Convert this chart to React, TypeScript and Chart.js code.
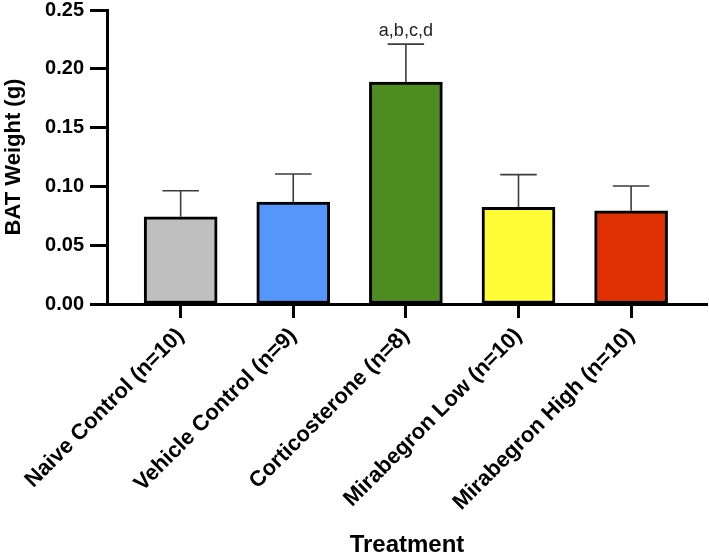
import React, { useEffect, useRef } from "react";
import { Chart, registerables } from "chart.js";

Chart.register(...registerables);

const categories = [
  "Naive Control (n=10)",
  "Vehicle Control (n=9)",
  "Corticosterone (n=8)",
  "Mirabegron Low (n=10)",
  "Mirabegron High (n=10)",
];
const means = [0.0742, 0.0867, 0.1888, 0.0822, 0.0793];
const errors = [0.0221, 0.0238, 0.0322, 0.0278, 0.021];
const annotations = ["", "", "a,b,c,d", "", ""];
const barColors = ["#BFBFBF", "#5596FB", "#4E8B21", "#FEFD38", "#DE3000"];
const yTicks = [0, 0.05, 0.1, 0.15, 0.2, 0.25];

const FONT = "'Liberation Sans', Arial, Helvetica, sans-serif";

const errorBarPlugin = {
  id: "errorBars",
  afterDatasetsDraw(chart: any) {
    const { ctx } = chart;
    const y = chart.scales.y;
    const meta = chart.getDatasetMeta(0);
    ctx.save();
    meta.data.forEach((bar: any, i: number) => {
      const cx = bar.x;
      const top = y.getPixelForValue(means[i]);
      const capY = y.getPixelForValue(means[i] + errors[i]);
      const half = bar.width / 4;
      ctx.strokeStyle = "#3c3c3c";
      ctx.lineWidth = 1.6;
      ctx.beginPath();
      ctx.moveTo(cx, top);
      ctx.lineTo(cx, capY);
      ctx.moveTo(cx - half, capY);
      ctx.lineTo(cx + half, capY);
      ctx.stroke();
      if (annotations[i]) {
        ctx.fillStyle = "#222";
        ctx.font = `18px ${FONT}`;
        ctx.textAlign = "center";
        ctx.textBaseline = "alphabetic";
        ctx.fillText(annotations[i], cx, capY - 8);
      }
    });
    ctx.restore();
  },
};

export default function App() {
  const ref = useRef<HTMLCanvasElement>(null);
  useEffect(() => {
    if (!ref.current) return;
    const chart = new Chart(ref.current, {
      type: "bar",
      data: {
        datasets: [
          {
            data: means.map((v, i) => ({ x: i, y: v })),
            backgroundColor: barColors,
            borderColor: "#000",
            borderWidth: 3,
            borderSkipped: false,
            barThickness: 73,
          },
        ],
      },
      plugins: [errorBarPlugin],
      options: {
        animation: false,
        responsive: false,
        devicePixelRatio: 1,
        layout: { padding: { top: 0, right: 2, left: 0, bottom: 0 } },
        plugins: { legend: { display: false }, tooltip: { enabled: false } },
        scales: {
          x: {
            type: "linear",
            offset: false,
            min: -0.654,
            max: 4.674,
            afterBuildTicks: (scale: any) => {
              scale.ticks = categories.map((_, i) => ({ value: i }));
            },
            afterFit: (scale: any) => {
              scale.height = 557 - 304;
            },
            ticks: {
              autoSkip: false,
              minRotation: 45,
              maxRotation: 45,
              padding: 5,
              color: "#000",
              font: { family: FONT, size: 22, weight: "bold" },
              callback: (v: any) => categories[Math.round(Number(v))] ?? "",
            },
            grid: {
              display: true,
              offset: false,
              drawOnChartArea: false,
              drawTicks: true,
              tickLength: 14,
              tickWidth: 3,
              tickColor: "#000",
            },
            border: { display: true, color: "#000", width: 3 },
            title: {
              display: true,
              text: "Treatment",
              color: "#000",
              font: { family: FONT, size: 24, weight: "bold" },
              padding: { top: 0, bottom: -3 },
            },
          },
          y: {
            type: "linear",
            min: 0,
            max: 0.25,
            afterBuildTicks: (scale: any) => {
              scale.ticks = yTicks.map((v) => ({ value: v }));
            },
            afterFit: (scale: any) => {
              scale.width = 107;
              scale.paddingTop = 10;
              scale.paddingBottom = 0;
            },
            ticks: {
              padding: 6,
              color: "#000",
              font: { family: FONT, size: 20, weight: "bold", lineHeight: 1 },
              callback: (v: any) => Number(v).toFixed(2),
            },
            grid: {
              display: true,
              drawOnChartArea: false,
              drawTicks: true,
              tickLength: 17,
              tickWidth: 3,
              tickColor: "#000",
            },
            border: { display: true, color: "#000", width: 3 },
            title: {
              display: true,
              text: "BAT Weight (g)",
              color: "#000",
              font: { family: FONT, size: 22, weight: "bold" },
              padding: { top: 1, bottom: 0 },
            },
          },
        },
      },
    });
    return () => chart.destroy();
  }, []);
  return (
    <div style={{ position: "fixed", left: 0, top: 0, width: 709, height: 557, background: "#fff" }}>
      <canvas ref={ref} width={709} height={557} />
    </div>
  );
}
